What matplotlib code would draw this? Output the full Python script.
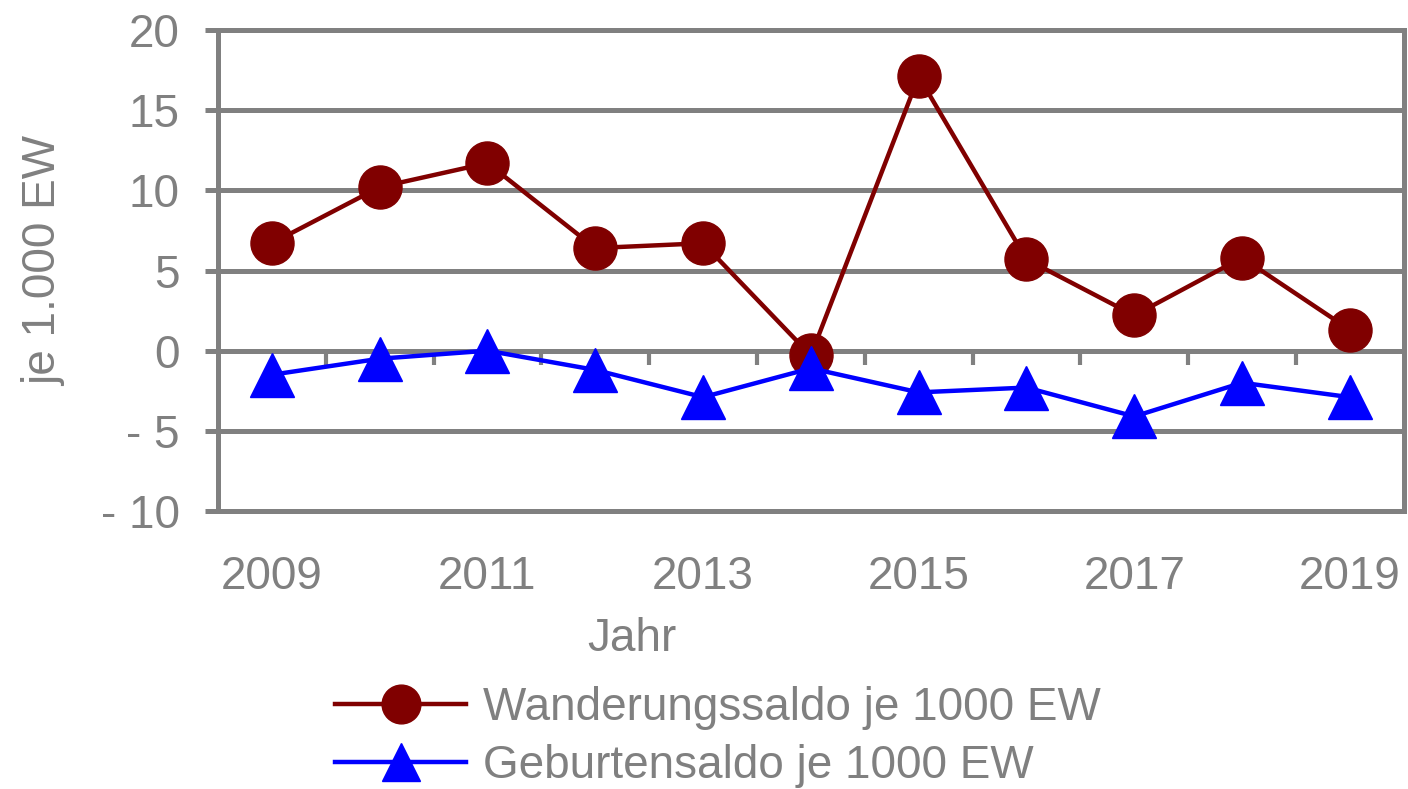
import numpy as np
import matplotlib
matplotlib.use("Agg")
import matplotlib.pyplot as plt
from matplotlib.ticker import FuncFormatter

# ---------------- data ----------------
years = ["2009", "2010", "2011", "2012", "2013", "2014", "2015", "2016", "2017", "2018", "2019"]
wanderung = [6.7, 10.2, 11.7, 6.4, 6.7, -0.3, 17.1, 5.7, 2.2, 5.8, 1.3]
geburten = [-1.5, -0.5, 0.0, -1.2, -2.9, -1.1, -2.6, -2.3, -4.1, -2.0, -2.9]
label_w = "Wanderungssaldo je 1000 EW"
label_g = "Geburtensaldo je 1000 EW"

gray = "#808080"
plt.rcParams["font.family"] = ["Liberation Sans", "DejaVu Sans"]
plt.rcParams["font.size"] = 33

fig = plt.figure(figsize=(14.08, 7.89), dpi=100)
ax = fig.add_axes([0.1548, 0.3523, 0.8422, 0.6097])

x = np.arange(len(years))
ax.plot(x, wanderung, color="#800000", lw=3.2, marker="o", ms=31, label=label_w, zorder=4)
ax.plot(x, geburten, color="#0000ff", lw=3.2, marker="^", ms=31, label=label_g, zorder=4)

ax.set_xlim(-0.5, len(years) - 0.5)
ax.set_ylim(-10, 20)
ax.set_yticks(np.arange(-10, 21, 5))
ax.yaxis.set_major_formatter(FuncFormatter(lambda v, p: "- %d" % abs(v) if v < 0 else "%d" % v))
ax.grid(axis="y", color=gray, lw=3.6, zorder=1)
ax.set_axisbelow(True)

ax.set_xticks(x)
ax.set_xticklabels([y if i % 2 == 0 else "" for i, y in enumerate(years)])
ax.tick_params(axis="x", length=0, pad=32, colors=gray)
ax.tick_params(axis="y", length=9.5, width=3.6, pad=18, colors=gray, direction="out")
for s in ax.spines.values():
    s.set_color(gray)
    s.set_linewidth(3.6)

# tick marks between categories on the zero line
sec = ax.secondary_xaxis(1 / 3)
sec.set_xticks(x[:-1] + 0.5)
sec.set_xticklabels([])
sec.tick_params(axis="x", length=10, width=3, color=gray, direction="out")
for s in sec.spines.values():
    s.set_visible(False)

ax.set_xlabel("Jahr", color=gray)
ax.xaxis.set_label_coords(0.349, -0.22)
ax.set_ylabel("je 1.000 EW", color=gray)
ax.yaxis.set_label_coords(-0.128, 0.52)

leg = fig.legend(loc="center left", bbox_to_anchor=(0.222, 0.066), frameon=False,
                 handlelength=2.85, handletextpad=0.37, labelspacing=0.3,
                 borderpad=0, markerscale=0.9)
for t in leg.get_texts():
    t.set_color(gray)

fig.savefig("out.png", dpi=100)
